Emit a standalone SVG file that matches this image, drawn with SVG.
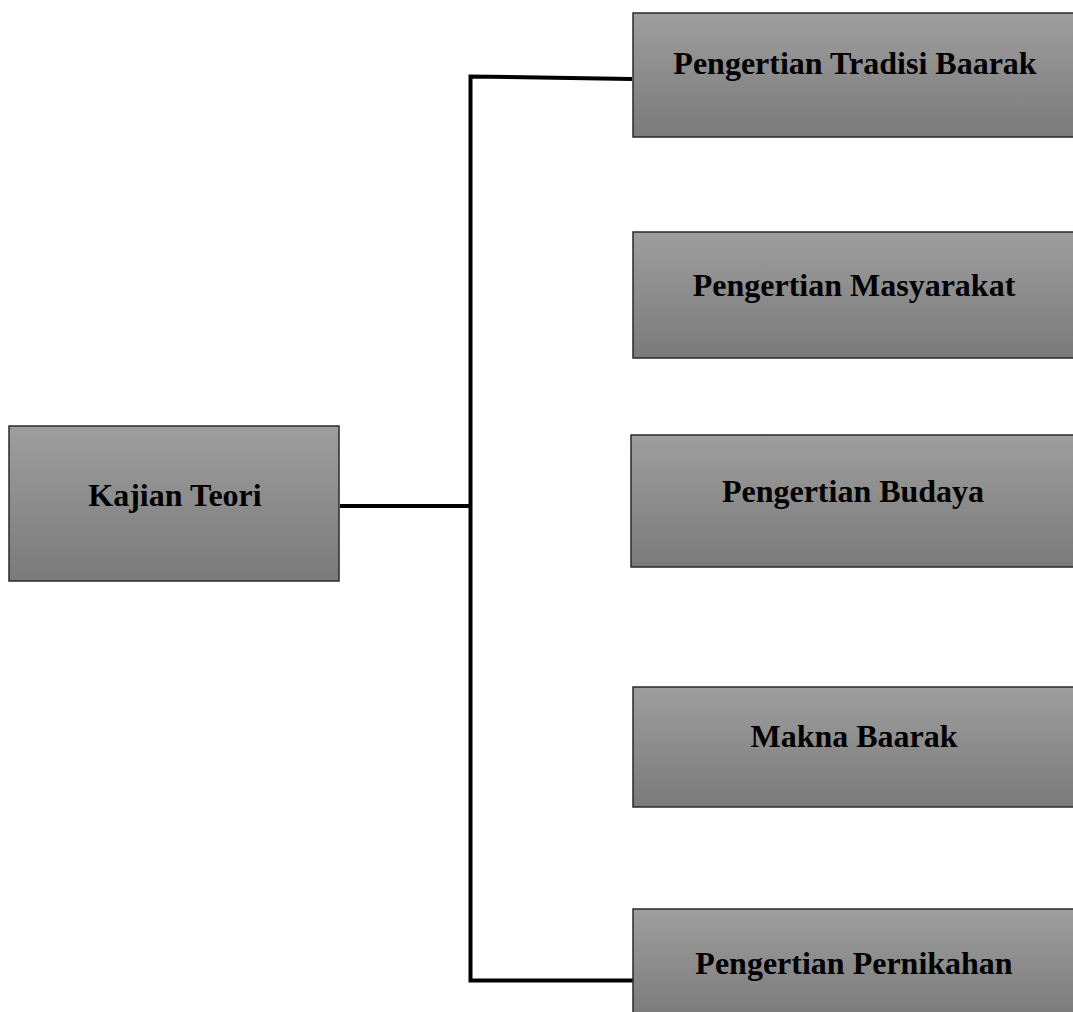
<svg xmlns="http://www.w3.org/2000/svg" width="1073" height="1012" viewBox="0 0 1073 1012">
<defs>
<linearGradient id="g" x1="0" y1="0" x2="0" y2="1">
<stop offset="0" stop-color="#9e9e9e"/>
<stop offset="1" stop-color="#7a7a7a"/>
</linearGradient>
<style>
.box{fill:url(#g);stroke:#2a2a2a;stroke-width:1.5}
.lbl{font-family:"Liberation Serif","Times New Roman",serif;font-weight:bold;font-size:32px;fill:#000;text-anchor:middle}
.con{fill:none;stroke:#000;stroke-width:4;stroke-linejoin:miter}
</style>
</defs>
<rect width="1073" height="1012" fill="#fff"/>
<g id="connectors">
<path class="con" d="M340 506 H470.5"/>
<path class="con" d="M632 79 L470.5 76.5 V980.5 H633"/>
</g>
<g id="kajian-teori">
<rect class="box" x="9" y="426" width="330" height="155"/>
<text class="lbl" x="175" y="506">Kajian Teori</text>
</g>
<g id="pengertian-tradisi-baarak">
<rect class="box" x="633" y="13" width="443" height="124"/>
<text class="lbl" x="855" y="74">Pengertian Tradisi Baarak</text>
</g>
<g id="pengertian-masyarakat">
<rect class="box" x="633" y="232" width="443" height="126"/>
<text class="lbl" x="854" y="296">Pengertian Masyarakat</text>
</g>
<g id="pengertian-budaya">
<rect class="box" x="631" y="435" width="445" height="132"/>
<text class="lbl" x="853" y="502">Pengertian Budaya</text>
</g>
<g id="makna-baarak">
<rect class="box" x="633" y="687" width="443" height="120"/>
<text class="lbl" x="854" y="747">Makna Baarak</text>
</g>
<g id="pengertian-pernikahan">
<rect class="box" x="633" y="909" width="443" height="110"/>
<text class="lbl" x="854" y="974">Pengertian Pernikahan</text>
</g>
</svg>
